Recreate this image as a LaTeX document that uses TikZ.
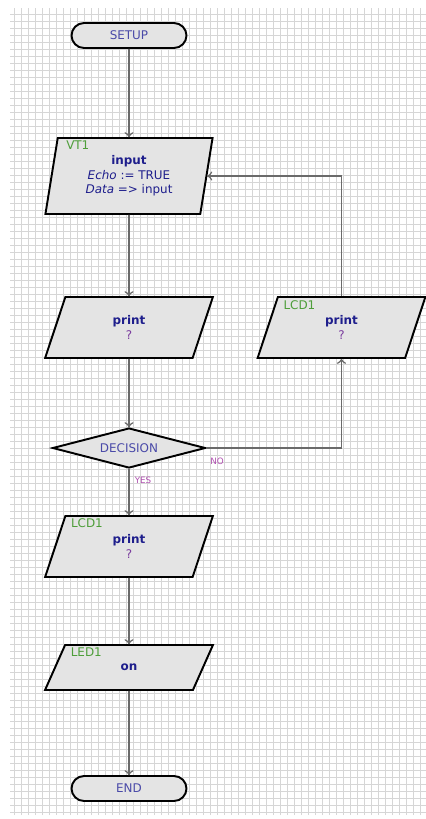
\documentclass[tikz,border=0pt]{standalone}
\usepackage{fontspec}
\setmainfont{DejaVu Sans}
\usetikzlibrary{arrows,decorations.markings,shapes.geometric}
\definecolor{boxfill}{HTML}{E4E4E4}
\definecolor{linegray}{HTML}{6A6A6A}
\definecolor{gridgray}{HTML}{D6D6D6}
\definecolor{titleblue}{HTML}{1E1E8C}
\definecolor{termblue}{HTML}{4A4AA8}
\definecolor{qpurple}{HTML}{7A3C9E}
\definecolor{taggreen}{HTML}{4E9E3A}
\definecolor{branchpink}{HTML}{B050B0}

\begin{document}
\begin{tikzpicture}[x=0.02cm,y=-0.02cm,
  font=\fontsize{6.8}{8.3}\selectfont,
  term/.style={draw,line width=1.1pt,fill=boxfill,rounded corners=0.25cm,
    minimum width=2.3cm,minimum height=0.5cm,text=termblue,inner sep=0pt},
  io/.style={/utils/exec={\pgfmathsetmacro\rightang{180-#1}},
    trapezium,trapezium stretches=true,trapezium left angle=#1,
    trapezium right angle=\rightang,draw,line width=1.1pt,fill=boxfill,
    minimum width=3.36cm,align=center,text=titleblue,inner sep=1pt},
  decide/.style={diamond,aspect=3.8,draw,line width=1.1pt,fill=boxfill,
    minimum width=3.06cm,minimum height=0.8cm,text=termblue,inner sep=1pt},
  tag/.style={anchor=west,text=taggreen,inner sep=0pt},
  branch/.style={text=branchpink,font=\fontsize{5}{6}\selectfont,inner sep=0pt}]
\useasboundingbox (0,0) rectangle (426,819);
\draw[gridgray,line width=0.3pt,step=0.14cm] (10,8) grid (426,815);

\node[term] (setup) at (129,35.5) {SETUP};
\node[io=80,minimum height=1.52cm] (input) at (129,176)
  {\textbf{input}\\\textit{Echo} := TRUE\\\textit{Data} => input};
\node[io=78,minimum height=1.22cm] (print1) at (129,327.5)
  {\textbf{print}\\{\color{qpurple}?}};
\node[io=78,minimum height=1.22cm] (print3) at (341.5,327.5)
  {\textbf{print}\\{\color{qpurple}?}};
\node[decide] (decision) at (129,448) {DECISION};
\node[io=78,minimum height=1.22cm] (print2) at (129,546.5)
  {\textbf{print}\\{\color{qpurple}?}};
\node[io=73,minimum height=0.9cm] (led) at (129,667.5) {\textbf{on}};
\node[term] (end) at (129,788.5) {END};

\node[tag] (vt1tag) at ([shift={(9,8)}]input.top left corner) {VT1};
\node[tag] (lcdtagA) at ([shift={(6,9)}]print3.top left corner) {LCD1};
\node[tag] (lcdtagB) at ([shift={(6,8)}]print2.top left corner) {LCD1};
\node[tag] (ledtag) at ([shift={(6,8)}]led.top left corner) {LED1};
\node[branch] (nolbl) at (217,461) {NO};
\node[branch] (yeslbl) at (143,480) {YES};

\begin{scope}[line width=0.9pt,color=linegray,decoration={markings,
    mark=at position 1 with {\arrow{>}}}]
    \draw[postaction={decorate}] (setup) -- (input);
    \draw[postaction={decorate}] (input) -- (print1);
    \draw[postaction={decorate}] (print1) -- (decision);
    \draw[postaction={decorate}] (decision) -- (print2);
    \draw[postaction={decorate}] (print2) -- (led);
    \draw[postaction={decorate}] (led) -- (end);
    \draw[postaction={decorate}] (decision) -| (print3);
    \draw[postaction={decorate}] (print3) |- (input);
\end{scope}
\end{tikzpicture}
\end{document}
